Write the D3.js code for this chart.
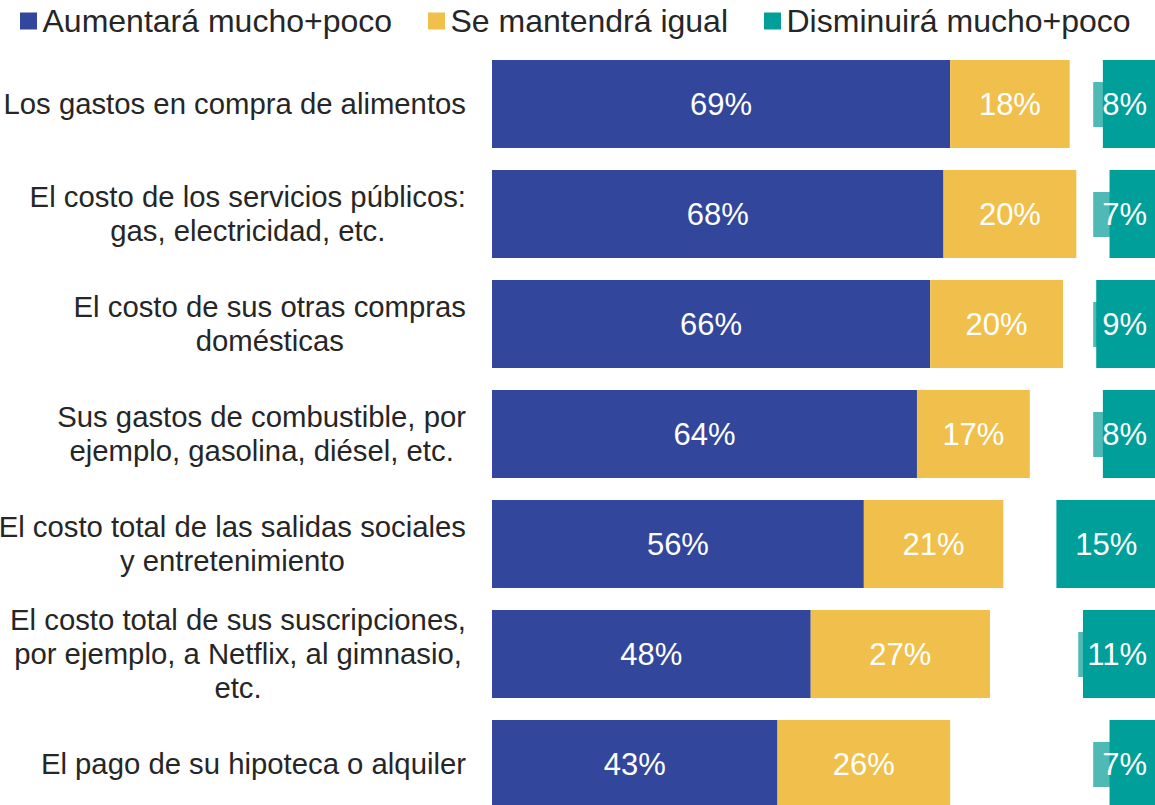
<!DOCTYPE html>
<html>
<head>
<meta charset="utf-8">
<script src="https://cdn.jsdelivr.net/npm/d3@7"></script>
<style>
  body { margin: 0; background: #fff; }
  svg { font-family: "Liberation Sans", Arial, sans-serif; }
</style>
</head>
<body>
<svg id="chart"></svg>
<script>
// data
let categories = [
  ['Los gastos en compra de alimentos'],
  ['El costo de los servicios públicos:', 'gas, electricidad, etc.'],
  ['El costo de sus otras compras', 'domésticas'],
  ['Sus gastos de combustible, por', 'ejemplo, gasolina, diésel, etc.'],
  ['El costo total de las salidas sociales', 'y entretenimiento'],
  ['El costo total de sus suscripciones,', 'por ejemplo, a Netflix, al gimnasio,', 'etc.'],
  ['El pago de su hipoteca o alquiler']
];
let increase = [69, 68, 66, 64, 56, 48, 43];
let same = [18, 20, 20, 17, 21, 27, 26];
let decrease = [8, 7, 9, 8, 15, 11, 7];
let seriesNames = ['Aumentará mucho+poco', 'Se mantendrá igual', 'Disminuirá mucho+poco'];
let colors = ['#32479b', '#f1bf4b', '#009f9a'];
let lightTeal = '#4fb9b5';

let width = 1155, height = 805;
let svg = d3.select('#chart').attr('width', width).attr('height', height);

let rows = categories.map((c, i) => ({
  id: i, lines: c, inc: increase[i], same: same[i], dec: decrease[i]
}));

let xScale = d3.scaleLinear().domain([0, 100]).range([492, 1156]);
let yScale = d3.scaleBand()
  .domain(rows.map(d => d.id))
  .range([49, 819])
  .paddingInner(0.2)
  .paddingOuter(0.1);
let bw = yScale.bandwidth();

// legend
let legendX = [20, 428, 764];
let legend = svg.append('g');
seriesNames.forEach((name, i) => {
  legend.append('rect')
    .attr('x', legendX[i]).attr('y', 12.5)
    .attr('width', 17).attr('height', 17)
    .attr('fill', colors[i]);
  legend.append('text')
    .attr('x', legendX[i] + 22.5).attr('y', 21)
    .attr('dy', '0.35em')
    .style('font-size', '32px')
    .attr('fill', '#262626')
    .text(name);
});

// category labels: centred lines, block right-aligned at 466
let lineH = 34;
rows.forEach(d => {
  let g = svg.append('g');
  let cy = yScale(d.id) + bw / 2;
  let texts = d.lines.map((l, j) => g.append('text')
    .attr('y', cy + (j - (d.lines.length - 1) / 2) * lineH)
    .attr('dy', '0.35em')
    .attr('text-anchor', 'middle')
    .style('font-size', '29.3px')
    .attr('fill', '#262626')
    .text(l));
  let maxW = d3.max(texts, t => t.node().getComputedTextLength());
  texts.forEach(t => t.attr('x', 466 - maxW / 2));
});

let bars = svg.append('g');

// increase
bars.selectAll('.inc').data(rows).join('rect')
  .attr('x', xScale(0))
  .attr('y', d => yScale(d.id))
  .attr('width', d => xScale(d.inc) - xScale(0))
  .attr('height', bw)
  .attr('fill', colors[0]);

// same
bars.selectAll('.same').data(rows).join('rect')
  .attr('x', d => xScale(d.inc))
  .attr('y', d => yScale(d.id))
  .attr('width', d => xScale(d.inc + d.same) - xScale(d.inc))
  .attr('height', bw)
  .attr('fill', colors[1]);

// value labels for first two series
function valueLabel(x, y, v) {
  return bars.append('text')
    .attr('x', x).attr('y', y)
    .attr('dy', '0.35em')
    .attr('text-anchor', 'middle')
    .style('font-size', '31px')
    .attr('fill', '#fff')
    .text(v + '%');
}
rows.forEach(d => {
  let cy = yScale(d.id) + bw / 2;
  valueLabel((xScale(0) + xScale(d.inc)) / 2, cy, d.inc);
  valueLabel((xScale(d.inc) + xScale(d.inc + d.same)) / 2, cy, d.same);
});

// decrease: right-aligned at 100%
let decG = svg.append('g');
rows.forEach(d => {
  let cy = yScale(d.id) + bw / 2;
  let x0 = xScale(100 - d.dec), x1 = xScale(100);
  let box = decG.append('rect').attr('fill', lightTeal);
  decG.append('rect')
    .attr('x', x0).attr('y', yScale(d.id))
    .attr('width', x1 - x0).attr('height', bw)
    .attr('fill', colors[2]);
  let t = decG.append('text')
    .attr('y', cy)
    .attr('dy', '0.35em')
    .attr('text-anchor', 'middle')
    .style('font-size', '31px')
    .attr('fill', '#fff')
    .text(d.dec + '%');
  let tw = t.node().getComputedTextLength();
  let cx = Math.min((x0 + x1) / 2, 1147 - tw / 2);
  t.attr('x', cx);
  box.attr('x', cx - tw / 2 - 9)
    .attr('y', cy - 22)
    .attr('width', tw + 30)
    .attr('height', 45);
});
</script>
</body>
</html>
